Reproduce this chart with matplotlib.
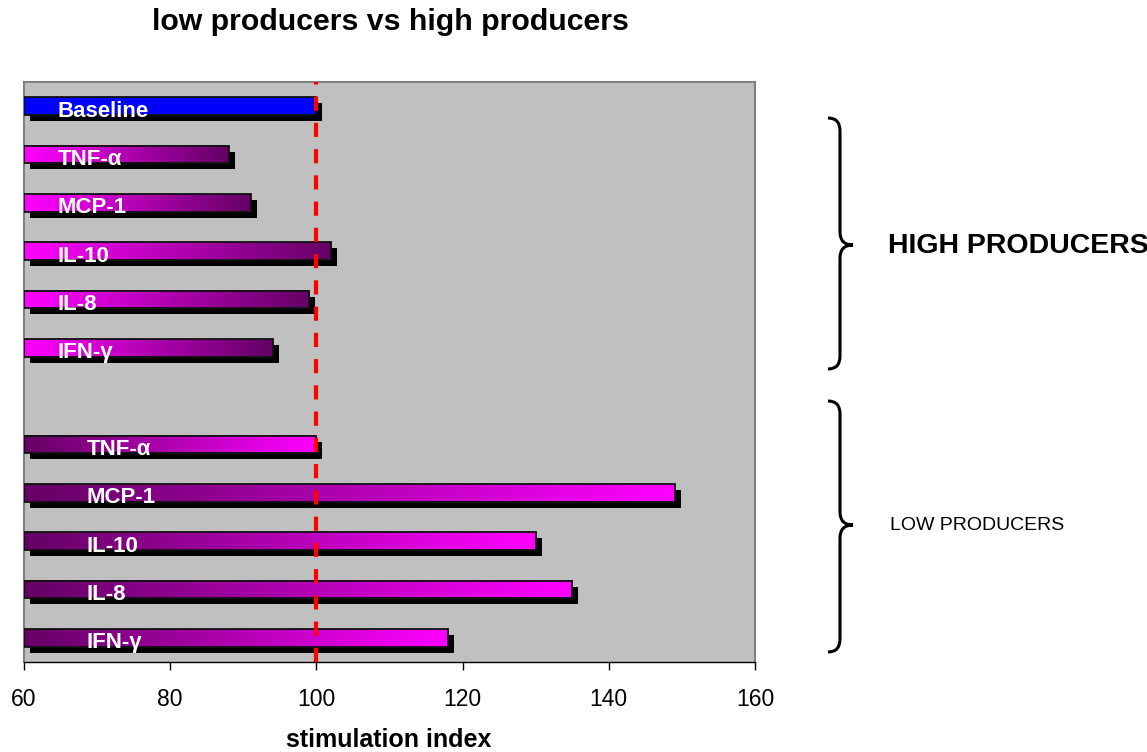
import numpy as np
import matplotlib
matplotlib.use("Agg")
import matplotlib.pyplot as plt
import matplotlib.transforms as mtransforms
from matplotlib.patches import Rectangle, PathPatch
from matplotlib.path import Path
from matplotlib.colors import LinearSegmentedColormap

plt.rcParams["font.family"] = ["Liberation Sans", "DejaVu Sans"]

# data, top to bottom
labels = ["Baseline", "TNF-α", "MCP-1", "IL-10", "IL-8", "IFN-γ",
          "TNF-α", "MCP-1", "IL-10", "IL-8", "IFN-γ"]
groups = ["baseline", "high", "high", "high", "high", "high",
          "low", "low", "low", "low", "low"]
values = [100, 88, 91, 102, 99, 94, 100, 149, 130, 135, 118]
x_ticks = [60, 80, 100, 120, 140, 160]
reference_value = 100

W, H = 1147, 752
fig = plt.figure(figsize=(W / 100, H / 100), dpi=100)
ax = fig.add_axes([24 / W, 1 - 662 / H, (755 - 24) / W, (662 - 82) / H])
ax.set_facecolor("#c0c0c0")

bar_h = 0.37
shadow = mtransforms.offset_copy(ax.transData, fig=fig, x=6, y=-6, units="dots")
grad = np.linspace(0, 1, 256).reshape(1, -1)
high_cmap = LinearSegmentedColormap.from_list("high", ["#ff00ff", "#640064"])
low_cmap = LinearSegmentedColormap.from_list("low", ["#640064", "#ff00ff"])

start = x_ticks[0]
for i, (lab, grp, val) in enumerate(zip(labels, groups, values)):
    # empty slot between the two groups
    y = i + (1 if grp == "low" else 0)
    ax.add_patch(Rectangle((start, y - bar_h / 2), val - start, bar_h, transform=shadow,
                           facecolor="black", edgecolor="none", zorder=2))
    if grp == "baseline":
        ax.add_patch(Rectangle((start, y - bar_h / 2), val - start, bar_h,
                               facecolor="#0000ff", edgecolor="#111111", lw=1.3, zorder=3))
    else:
        cmap = high_cmap if grp == "high" else low_cmap
        ax.imshow(grad, cmap=cmap, extent=[start, val, y + bar_h / 2, y - bar_h / 2],
                  aspect="auto", interpolation="bilinear", zorder=3)
        ax.add_patch(Rectangle((start, y - bar_h / 2), val - start, bar_h,
                               facecolor="none", edgecolor="#111111", lw=1.3, zorder=4))
    text_x = 68.6 if grp == "low" else 64.6
    ax.text(text_x, y + 0.1, lab, color="white", fontsize=16, fontweight="bold",
            ha="left", va="center", zorder=6)

ax.axvline(reference_value, color="#ff0000", lw=3, dashes=(3.4, 2.9), zorder=5)

ax.set_xlim(x_ticks[0], x_ticks[-1])
ax.set_ylim(len(labels) + 0.5, -0.5)
ax.set_xticks(x_ticks)
ax.set_yticks([])
ax.tick_params(axis="x", direction="out", length=6, width=1, labelsize=16.5, pad=13)

for side in ["top", "left", "right"]:
    ax.spines[side].set_color("#808080")
    ax.spines[side].set_linewidth(1.5)
ax.spines["bottom"].set_color("black")
ax.spines["bottom"].set_linewidth(1)

fig.text(390 / W, 1 - 22 / H, "low producers vs high producers", fontsize=21.8,
         fontweight="bold", ha="center", va="center")
fig.text(389 / W, 1 - 740 / H, "stimulation index", fontsize=18,
         fontweight="bold", ha="center", va="center")


def brace(y0, y1, ym, xl=828, xv=840, xt=853, r=13):
    pts = [(xl, y0), (xv, y0), (xv, y0 + r),
           (xv, ym - r),
           (xv, ym), (xt, ym),
           (xv, ym), (xv, ym + r),
           (xv, y1 - r),
           (xv, y1), (xl, y1)]
    codes = [Path.MOVETO, Path.CURVE3, Path.CURVE3,
             Path.LINETO,
             Path.CURVE3, Path.CURVE3,
             Path.CURVE3, Path.CURVE3,
             Path.LINETO,
             Path.CURVE3, Path.CURVE3]
    pts = [(px / W, 1 - py / H) for px, py in pts]
    fig.add_artist(PathPatch(Path(pts, codes), transform=fig.transFigure,
                             facecolor="none", edgecolor="black", lw=2.2))


brace(118, 369, 245)
brace(401, 652, 525)

fig.text(888 / W, 1 - 246 / H, "HIGH PRODUCERS", fontsize=20.5, fontweight="bold",
         ha="left", va="center")
fig.text(890 / W, 1 - 525 / H, "LOW PRODUCERS", fontsize=14, ha="left", va="center")

fig.savefig("out.png", dpi=100)
